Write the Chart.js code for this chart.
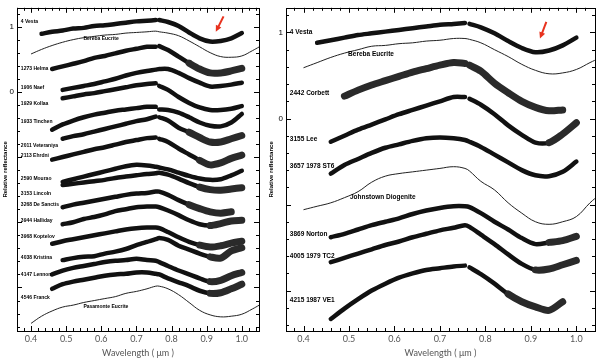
<!DOCTYPE html>
<html>
<head>
<meta charset="utf-8">
<script src="https://cdn.jsdelivr.net/npm/chart.js@4"></script>
<style>
  body { margin: 0; background: #fff; }
  #wrap { position: relative; width: 600px; height: 358px; }
  canvas { position: absolute; top: 0; }
</style>
</head>
<body>
<div id="wrap">
  <canvas id="leftChart" width="262" height="358" style="left:0"></canvas>
  <canvas id="rightChart" width="338" height="358" style="left:262px"></canvas>
</div>
<script>
const N = null

// wavelength grid (um), shared by every curve; 0.76 is the gap between the two detectors
const wl = [0.40, 0.43, 0.46, 0.49, 0.52, 0.55, 0.58, 0.61, 0.64, 0.67, 0.70, 0.73, 0.755, 0.76, 0.765, 0.79, 0.82, 0.85, 0.88, 0.91, 0.94, 0.97, 1.00, 1.03, 1.05]
const xTickLabels = [0.4, 0.5, 0.6, 0.7, 0.8, 0.9, 1.0]
const yTickLabels = [0, 1]

// ---- left panel: relative reflectance, offset ----
const vestaL     = [N, 0.89, 0.92, 0.94, 0.97, 0.98, 1.01, 1.02, 1.04, 1.06, 1.08, 1.09, 1.10, N, 1.10, 1.07, 1.01, 0.91, 0.82, 0.77, 0.78, 0.82, 0.90, N, N]
const helma      = [N, N, 0.35, 0.39, 0.43, 0.47, 0.52, 0.55, 0.59, 0.63, 0.66, 0.69, 0.69, N, 0.70, 0.64, 0.54, 0.44, 0.35, 0.29, 0.29, 0.32, 0.36, N, N]
const nsaf       = [N, N, N, 0.03, 0.06, 0.09, 0.12, 0.16, 0.20, 0.25, 0.29, 0.32, 0.34, N, 0.35, 0.35, 0.29, 0.21, 0.14, 0.08, 0.09, 0.11, 0.14, N, N]
const kollaa     = [N, N, N, -0.10, -0.07, -0.04, -0.02, 0.01, 0.04, 0.07, 0.10, 0.12, 0.13, N, 0.09, 0.03, -0.08, -0.17, -0.24, -0.28, -0.28, -0.26, -0.22, N, N]
const tinchen    = [N, N, -0.58, -0.50, -0.44, -0.39, -0.35, -0.32, -0.29, -0.27, -0.25, -0.23, -0.23, N, -0.27, -0.28, -0.32, -0.39, -0.47, -0.52, -0.53, -0.47, -0.34, N, N]
const veteraniya = [N, N, N, -0.72, -0.68, -0.65, -0.61, -0.57, -0.53, -0.49, -0.45, -0.42, -0.38, N, -0.39, -0.44, -0.55, -0.62, -0.70, -0.77, -0.77, -0.72, -0.67, N, N]
const ehrdni     = [N, N, -1.04, -1.00, -0.96, -0.92, -0.88, -0.85, -0.81, -0.77, -0.74, -0.71, -0.70, N, -0.72, -0.77, -0.87, -0.96, -1.05, -1.12, -1.09, -1.02, -0.97, N, N]
const mourao     = [N, N, N, -1.38, -1.34, -1.30, -1.26, -1.22, -1.18, -1.14, -1.12, -1.13, -1.15, N, -1.16, -1.19, -1.24, -1.29, -1.33, -1.35, -1.34, -1.28, -1.21, N, N]
const lincoln    = [N, N, N, -1.43, -1.41, -1.39, -1.37, -1.35, -1.32, -1.30, -1.28, -1.26, -1.25, N, -1.24, -1.27, -1.33, -1.40, -1.46, -1.50, -1.51, -1.49, -1.47, N, N]
const desanctis  = [N, N, N, -1.77, -1.73, -1.70, -1.67, -1.64, -1.61, -1.58, -1.56, -1.55, -1.53, N, -1.53, -1.58, -1.66, -1.73, -1.79, -1.84, -1.86, -1.84, N, N, N]
const halliday   = [N, N, N, -2.03, -2.00, -1.95, -1.92, -1.88, -1.83, -1.80, -1.77, -1.76, -1.76, N, -1.77, -1.82, -1.89, -1.97, -2.03, -2.05, -2.02, -1.98, -1.97, N, N]
const koptelov   = [N, N, -2.33, -2.29, -2.26, -2.23, -2.20, -2.17, -2.14, -2.11, -2.09, -2.08, -2.08, N, -2.09, -2.15, -2.23, -2.30, -2.35, -2.38, -2.36, -2.32, -2.29, N, N]
const kristina   = [N, N, N, -2.58, -2.55, -2.53, -2.52, -2.48, -2.45, -2.41, -2.35, -2.30, -2.26, N, -2.24, -2.27, -2.36, -2.42, -2.48, -2.53, -2.55, -2.44, -2.39, N, N]
const lennon     = [N, N, -2.80, -2.74, -2.70, -2.67, -2.64, -2.61, -2.59, -2.58, -2.56, -2.58, -2.59, N, -2.61, -2.67, -2.74, -2.80, -2.86, -2.91, -2.89, -2.82, -2.77, N, N]
const franck     = [N, N, -3.02, -2.95, -2.91, -2.88, -2.85, -2.82, -2.80, -2.79, -2.77, -2.77, -2.79, N, -2.80, -2.86, -2.92, -2.98, -3.05, -3.09, -3.08, -3.02, -2.95, N, N]
const berebaL    = [0.58, 0.65, 0.71, 0.76, 0.80, 0.83, 0.85, 0.87, 0.88, 0.90, 0.91, 0.92, 0.93, N, 0.92, 0.90, 0.86, 0.78, 0.69, 0.60, 0.54, 0.53, 0.55, 0.63, 0.69]
const pasamonte  = [-3.55, -3.44, -3.36, -3.30, -3.27, -3.23, -3.20, -3.17, -3.14, -3.09, -3.06, -3.02, -2.98, N, -2.98, -3.02, -3.11, -3.23, -3.35, -3.42, -3.45, -3.44, -3.41, -3.33, -3.27]

const leftSpectra = [vestaL, helma, nsaf, kollaa, tinchen, veteraniya, ehrdni, mourao, lincoln, desanctis, halliday, koptelov, kristina, lennon, franck]
const leftNames = ['4 Vesta', '1273 Helma', '1906 Naef', '1929 Kollaa', '1933 Tinchen', '2011 Veteraniya', '2113 Ehrdni', '2590 Mourao', '3153 Lincoln', '3268 De Sanctis', '3944 Halliday', '3968 Koptelov', '4038 Kristina', '4147 Lennon', '4546 Franck']
const leftLabelY = [1.08, 0.35, 0.06, -0.18, -0.45, -0.83, -0.98, -1.33, -1.56, -1.73, -1.98, -2.22, -2.54, -2.80, -3.15]
const leftMeteorites = [berebaL, pasamonte]
const leftMeteoriteNames = ['Bereba Eucrite', 'Pasamonte Eucrite']
const leftMeteoriteLabelX = [0.549, 0.549]
const leftMeteoriteLabelY = [0.82, -3.29]

// ---- right panel ----
const vestaR    = [N, 0.88, 0.91, 0.94, 0.97, 0.99, 1.01, 1.03, 1.05, 1.07, 1.09, 1.10, 1.11, N, 1.10, 1.06, 0.99, 0.90, 0.82, 0.77, 0.79, 0.85, 0.94, N, N]
const corbett   = [N, N, N, 0.26, 0.33, 0.39, 0.44, 0.49, 0.54, 0.58, 0.62, 0.65, 0.64, N, 0.62, 0.55, 0.41, 0.30, 0.20, 0.13, 0.09, 0.10, N, N, N]
const lee       = [N, N, -0.27, -0.20, -0.13, -0.07, -0.01, 0.05, 0.10, 0.15, 0.20, 0.25, 0.25, N, 0.23, 0.16, 0.05, -0.08, -0.19, -0.28, -0.28, -0.18, -0.05, N, N]
const st6       = [N, N, -0.64, -0.54, -0.47, -0.40, -0.34, -0.30, -0.26, -0.23, -0.22, -0.23, -0.25, N, -0.27, -0.33, -0.42, -0.51, -0.60, -0.66, -0.67, -0.62, -0.50, N, N]
const norton    = [N, N, -1.38, -1.34, -1.29, -1.24, -1.20, -1.16, -1.11, -1.07, -1.04, -1.02, -1.02, N, -1.03, -1.10, -1.20, -1.29, -1.39, -1.46, -1.44, -1.42, -1.37, N, N]
const tc2       = [N, N, -1.67, -1.62, -1.57, -1.52, -1.47, -1.43, -1.38, -1.34, -1.30, -1.27, -1.24, N, -1.26, -1.35, -1.46, -1.58, -1.69, -1.76, -1.75, -1.70, -1.65, N, N]
const ve1       = [N, N, -2.33, -2.21, -2.10, -2.00, -1.92, -1.85, -1.80, -1.76, -1.74, -1.72, -1.71, N, -1.73, -1.81, -1.92, -2.04, -2.13, -2.19, -2.23, -2.13, N, N, N]
const berebaR   = [0.59, 0.65, 0.71, 0.76, 0.80, 0.84, 0.85, 0.87, 0.88, 0.90, 0.91, 0.93, 0.93, N, 0.92, 0.88, 0.80, 0.72, 0.63, 0.56, 0.52, 0.53, 0.57, 0.65, 0.70]
const johnstown = [-1.06, -1.02, -0.98, -0.92, -0.85, -0.74, -0.67, -0.64, -0.62, -0.60, -0.58, -0.56, -0.58, N, -0.61, -0.73, -0.83, -0.98, -1.10, -1.20, -1.23, -1.20, -1.14, -0.98, -0.89]

const rightSpectra = [vestaR, corbett, lee, st6, norton, tc2, ve1]
const rightNames = ['4 Vesta', '2442 Corbett', '3155 Lee', '3657 1978 ST6', '3869 Norton', '4005 1979 TC2', '4215 1987 VE1']
const rightLabelY = [1.00, 0.29, -0.24, -0.56, -1.35, -1.60, -2.11]
const rightMeteorites = [berebaR, johnstown]
const rightMeteoriteNames = ['Bereba Eucrite', 'Johnstown Diogenite']
const rightMeteoriteLabelX = [0.498, 0.502]
const rightMeteoriteLabelY = [0.75, -0.92]

// spectra that show the detector gap, and where the red end turns noisy
const gapped = ['4 Vesta', '1273 Helma', '1929 Kollaa', '1933 Tinchen', '2011 Veteraniya', '2113 Ehrdni', '2442 Corbett', '3155 Lee', '4215 1987 VE1']
const noisyFrom = {
	'1273 Helma': 0.85, '2011 Veteraniya': 0.85, '2113 Ehrdni': 0.88, '3153 Lincoln': 0.88,
	'3268 De Sanctis': 0.85, '3944 Halliday': 0.9, '3968 Koptelov': 0.88, '4038 Kristina': 0.9,
	'4147 Lennon': 0.9, '4546 Franck': 0.9, '2442 Corbett': 0.46, '3155 Lee': 0.94,
	'3869 Norton': 0.94, '4005 1979 TC2': 0.9, '4215 1987 VE1': 0.85
}

const series = vals => wl.map((x, i) => ({ x: x, y: vals[i] }))

function spectrumSet(name, vals) {
	const start = noisyFrom[name]
	const set = {
		label: name,
		data: series(vals),
		borderColor: '#111',
		borderWidth: 4.5,
		borderCapStyle: 'round',
		pointRadius: 0,
		tension: 0.3,
		spanGaps: !gapped.includes(name)
	}
	if (start) set.segment = {
		borderWidth: c => c.p0.parsed.x >= start ? 7 : 4.5,
		borderColor: c => c.p0.parsed.x >= start ? '#2a2a2a' : '#111'
	}
	return set
}

function meteoriteSet(name, vals) {
	return {
		label: name,
		data: series(vals),
		borderColor: '#222',
		borderWidth: 1,
		pointRadius: 0,
		tension: 0.4,
		spanGaps: true
	}
}

// frame with inward tick marks on all four sides
const frameTicks = {
	id: 'frameTicks',
	afterDraw(chart) {
		const { ctx, chartArea: a, scales: { x, y } } = chart
		ctx.save()
		ctx.strokeStyle = '#000'
		ctx.lineWidth = 1
		ctx.strokeRect(Math.round(a.left) + 0.5, Math.round(a.top) + 0.5, Math.round(a.right - a.left), Math.round(a.bottom - a.top))
		ctx.beginPath()
		for (let i = 18; i <= 52; i++) {
			const px = Math.round(x.getPixelForValue(i / 50)) + 0.5
			if (px <= a.left || px >= a.right) continue
			const len = i % 5 === 0 ? 5 : 3
			ctx.moveTo(px, a.bottom); ctx.lineTo(px, a.bottom - len)
			ctx.moveTo(px, a.top); ctx.lineTo(px, a.top + len)
		}
		for (let k = Math.ceil(y.min * 5); k <= Math.floor(y.max * 5); k++) {
			const py = Math.round(y.getPixelForValue(k / 5)) + 0.5
			const len = k % 5 === 0 ? 5 : 3
			ctx.moveTo(a.left, py); ctx.lineTo(a.left + len, py)
			ctx.moveTo(a.right, py); ctx.lineTo(a.right - len, py)
		}
		ctx.stroke()
		ctx.restore()
	}
}

// asteroid / meteorite names and the red arrow at the 0.9 um band
const annotate = {
	id: 'annotate',
	afterDatasetsDraw(chart, args, opts) {
		const { ctx, scales: { x, y } } = chart
		ctx.save()
		ctx.fillStyle = '#000'
		ctx.textBaseline = 'middle'
		ctx.font = 'bold ' + opts.size + 'px "Liberation Sans", Arial, sans-serif'
		opts.names.forEach((n, i) => ctx.fillText(n, x.getPixelForValue(opts.labelX), y.getPixelForValue(opts.labelY[i])))
		opts.metNames.forEach((n, i) => ctx.fillText(n, x.getPixelForValue(opts.metX[i]), y.getPixelForValue(opts.metY[i])))
		const tx = x.getPixelForValue(opts.arrow[0]), ty = y.getPixelForValue(opts.arrow[1])
		const hx = x.getPixelForValue(opts.arrow[2]), hy = y.getPixelForValue(opts.arrow[3])
		const ang = Math.atan2(hy - ty, hx - tx)
		ctx.strokeStyle = '#e8321e'
		ctx.fillStyle = '#e8321e'
		ctx.lineWidth = 2
		ctx.beginPath()
		ctx.moveTo(tx, ty)
		ctx.lineTo(hx - 5 * Math.cos(ang), hy - 5 * Math.sin(ang))
		ctx.stroke()
		ctx.beginPath()
		ctx.moveTo(hx, hy)
		ctx.lineTo(hx - 7 * Math.cos(ang - 0.45), hy - 7 * Math.sin(ang - 0.45))
		ctx.lineTo(hx - 7 * Math.cos(ang + 0.45), hy - 7 * Math.sin(ang + 0.45))
		ctx.closePath()
		ctx.fill()
		ctx.restore()
	}
}

function makeOptions(p) {
	return {
		responsive: false,
		animation: false,
		events: [],
		layout: { padding: { top: p.top, right: p.right, left: 0, bottom: 0 } },
		plugins: {
			legend: { display: false },
			tooltip: { enabled: false },
			annotate: p.annotate
		},
		scales: {
			x: {
				type: 'linear',
				min: p.xmin,
				max: p.xmax,
				afterBuildTicks: s => { s.ticks = xTickLabels.map(v => ({ value: v })) },
				afterFit: s => { s.height = 27 },
				grid: { display: false, drawTicks: false },
				border: { display: false },
				ticks: {
					padding: 3,
					color: '#555',
					font: { family: 'Lato, "Open Sans", sans-serif', size: 9 },
					callback: v => v.toFixed(1)
				},
				title: {
					display: true,
					text: 'Wavelength ( \u03bcm )',
					color: '#555',
					font: { family: 'Lato, "Open Sans", sans-serif', size: 9 },
					padding: { top: 4.5, bottom: 0 }
				}
			},
			y: {
				type: 'linear',
				min: p.ymin,
				max: p.ymax,
				afterBuildTicks: s => { s.ticks = yTickLabels.map(v => ({ value: v })) },
				afterFit: s => { s.width = p.yWidth },
				grid: { display: false, drawTicks: false },
				border: { display: false },
				ticks: {
					padding: 3,
					color: '#000',
					font: { family: '"Liberation Sans", Arial, sans-serif', size: 8 },
					callback: v => String(v)
				},
				title: {
					display: true,
					text: 'Relative reflectance',
					color: '#000',
					font: { family: '"Liberation Sans", Arial, sans-serif', size: 6, weight: 'bold' },
					padding: { top: p.titlePad, bottom: 0 }
				}
			}
		}
	}
}

const leftChart = new Chart(document.getElementById('leftChart'), {
	type: 'line',
	data: {
		datasets: leftSpectra.map((v, i) => spectrumSet(leftNames[i], v))
			.concat(leftMeteorites.map((v, i) => meteoriteSet(leftMeteoriteNames[i], v)))
	},
	options: makeOptions({
		top: 3, right: 3, xmin: 0.36, xmax: 1.049, ymin: -3.667, ymax: 1.288, yWidth: 17, titlePad: 2,
		annotate: {
			size: 5, names: leftNames, labelX: 0.371, labelY: leftLabelY,
			metNames: leftMeteoriteNames, metX: leftMeteoriteLabelX, metY: leftMeteoriteLabelY,
			arrow: [0.948, 1.156, 0.926, 0.92]
		}
	}),
	plugins: [frameTicks, annotate]
})

const rightChart = new Chart(document.getElementById('rightChart'), {
	type: 'line',
	data: {
		datasets: rightSpectra.map((v, i) => spectrumSet(rightNames[i], v))
			.concat(rightMeteorites.map((v, i) => meteoriteSet(rightMeteoriteNames[i], v)))
	},
	options: makeOptions({
		top: 4, right: 5, xmin: 0.3615, xmax: 1.041, ymin: -2.47, ymax: 1.287, yWidth: 24, titlePad: 6,
		annotate: {
			size: 6.5, names: rightNames, labelX: 0.370, labelY: rightLabelY,
			metNames: rightMeteoriteNames, metX: rightMeteoriteLabelX, metY: rightMeteoriteLabelY,
			arrow: [0.934, 1.123, 0.920, 0.93]
		}
	}),
	plugins: [frameTicks, annotate]
})
</script>
</body>
</html>
